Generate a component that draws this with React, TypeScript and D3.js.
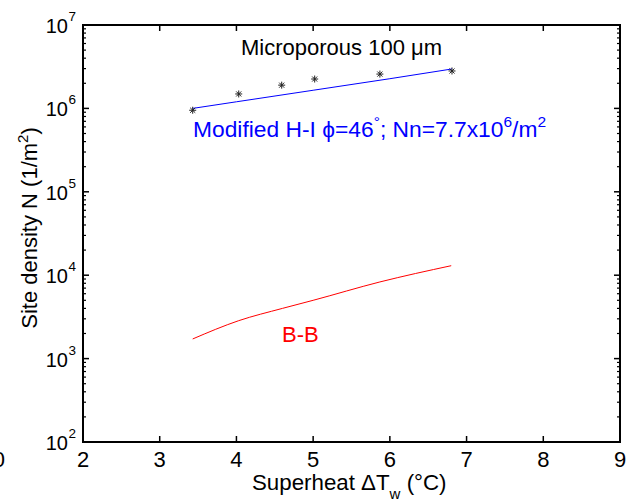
import React from "react";
import * as d3 from "d3";

const xTicks = [2, 3, 4, 5, 6, 7, 8, 9];
const yExponents = [2, 3, 4, 5, 6, 7];

const markerX = [3.43, 4.03, 4.59, 5.02, 5.87, 6.81];
const markerY = [9.5e5, 1.49e6, 1.9e6, 2.25e6, 2.58e6, 2.81e6];

const blueX = [3.43, 4.0, 5.0, 6.0, 6.81];
const blueY = [1.0e6, 1.2e6, 1.65e6, 2.27e6, 2.97e6];

const redX = [3.43, 4.03, 4.6, 5.0, 5.87, 6.8];
const redY = [1.72e3, 2.85e3, 4.0e3, 5.0e3, 8.3e3, 1.3e4];

const W = 632;
const H = 504;
const L = 83, R = 620, T = 25, B = 442;
const FONT = "'Liberation Sans', Arial, Helvetica, sans-serif";

export default function App() {
  const x = d3.scaleLinear().domain([2, 9]).range([L, R]);
  const y = d3.scaleLog().domain([1e2, 1e7]).range([B, T]);

  const line = d3
    .line<[number, number]>()
    .x((d) => x(d[0]))
    .y((d) => y(d[1]))
    .curve(d3.curveMonotoneX);

  const blue: [number, number][] = blueX.map((v, i) => [v, blueY[i]]);
  const red: [number, number][] = redX.map((v, i) => [v, redY[i]]);

  const minor: number[] = [];
  for (let e = 2; e < 7; e++) {
    for (let m = 2; m <= 9; m++) minor.push(m * Math.pow(10, e));
  }

  const star = (cx: number, cy: number, k: number) => {
    const s = 3.5;
    const d = s * 0.72;
    return (
      <g key={k} stroke="#222" strokeWidth={1}>
        <line x1={cx - s} y1={cy} x2={cx + s} y2={cy} />
        <line x1={cx} y1={cy - s} x2={cx} y2={cy + s} />
        <line x1={cx - d} y1={cy - d} x2={cx + d} y2={cy + d} />
        <line x1={cx - d} y1={cy + d} x2={cx + d} y2={cy - d} />
      </g>
    );
  };

  return (
    <svg
      width={W}
      height={H}
      style={{ position: "absolute", left: 0, top: 0, background: "#fff" }}
      fontFamily={FONT}
    >
      <rect x={0} y={0} width={W} height={H} fill="#fff" />
      {/* data lines */}
      <path d={line(blue) || ""} fill="none" stroke="#0000ff" strokeWidth={1} />
      <path d={line(red) || ""} fill="none" stroke="#ff0000" strokeWidth={1} />
      {markerX.map((v, i) => star(x(v), y(markerY[i]), i))}

      {/* minor y ticks */}
      {minor.map((v, i) => (
        <g key={"m" + i} stroke="#000" strokeWidth={1.2}>
          <line x1={L} x2={L + 3} y1={y(v)} y2={y(v)} />
          <line x1={R} x2={R - 3} y1={y(v)} y2={y(v)} />
        </g>
      ))}
      {/* major y ticks */}
      {yExponents.map((e) => (
        <g key={"y" + e} stroke="#000" strokeWidth={1.5}>
          <line x1={L} x2={L + 6} y1={y(Math.pow(10, e))} y2={y(Math.pow(10, e))} />
          <line x1={R} x2={R - 6} y1={y(Math.pow(10, e))} y2={y(Math.pow(10, e))} />
        </g>
      ))}
      {/* x ticks */}
      {xTicks.map((v) => (
        <g key={"x" + v} stroke="#000" strokeWidth={1.5}>
          <line x1={x(v)} x2={x(v)} y1={B} y2={B - 6} />
          <line x1={x(v)} x2={x(v)} y1={T} y2={T + 6} />
        </g>
      ))}
      {/* frame */}
      <rect x={L} y={T} width={R - L} height={B - T} fill="none" stroke="#000" strokeWidth={2} />

      {/* x tick labels */}
      {xTicks.map((v) => (
        <text key={"xl" + v} x={x(v)} y={467} fontSize={22} textAnchor="middle" fill="#000">
          {v}
        </text>
      ))}
      {/* y tick labels */}
      {yExponents.map((e) => {
        const ty = y(Math.pow(10, e));
        return (
          <g key={"yl" + e}>
            <text x={68} y={ty + 8} fontSize={20} textAnchor="end" fill="#000">10</text>
            <text x={68.5} y={ty - 4} fontSize={13.5} textAnchor="start" fill="#000">{e}</text>
          </g>
        );
      })}

      {/* axis labels */}
      <text x={252} y={490} fontSize={22.3} fill="#000">
        Superheat ΔT
        <tspan fontSize={15} dy={9}>w</tspan>
        <tspan dy={-9}> (°C)</tspan>
      </text>
      <text
        transform="translate(37,228) rotate(-90)"
        fontSize={22}
        textAnchor="middle"
        fill="#000"
      >
        Site density N (1/m<tspan fontSize={15} dy={-9}>2</tspan>
        <tspan dy={9}>)</tspan>
      </text>

      {/* annotations */}
      <text x={341.5} y={55} fontSize={22} textAnchor="middle" fill="#000">
        Microporous 100 μm
      </text>
      <text x={193} y={137} fontSize={22.8} fill="#0000ff">
        Modified H-I ϕ=46
        <tspan fontSize={15.5} dy={-10}>°</tspan>
        <tspan dy={10}>; Nn=7.7x10</tspan>
        <tspan fontSize={15.5} dy={-10}>6</tspan>
        <tspan dy={10}>/m</tspan>
        <tspan fontSize={15.5} dy={-10}>2</tspan>
      </text>
      <text x={282} y={342} fontSize={22} fill="#ff0000">
        B-B
      </text>
      {/* clipped panel remnant, cut at the left edge as in the reference */}
      <text x={5} y={467} fontSize={22} textAnchor="end" fill="#000">
        0
      </text>
    </svg>
  );
}
